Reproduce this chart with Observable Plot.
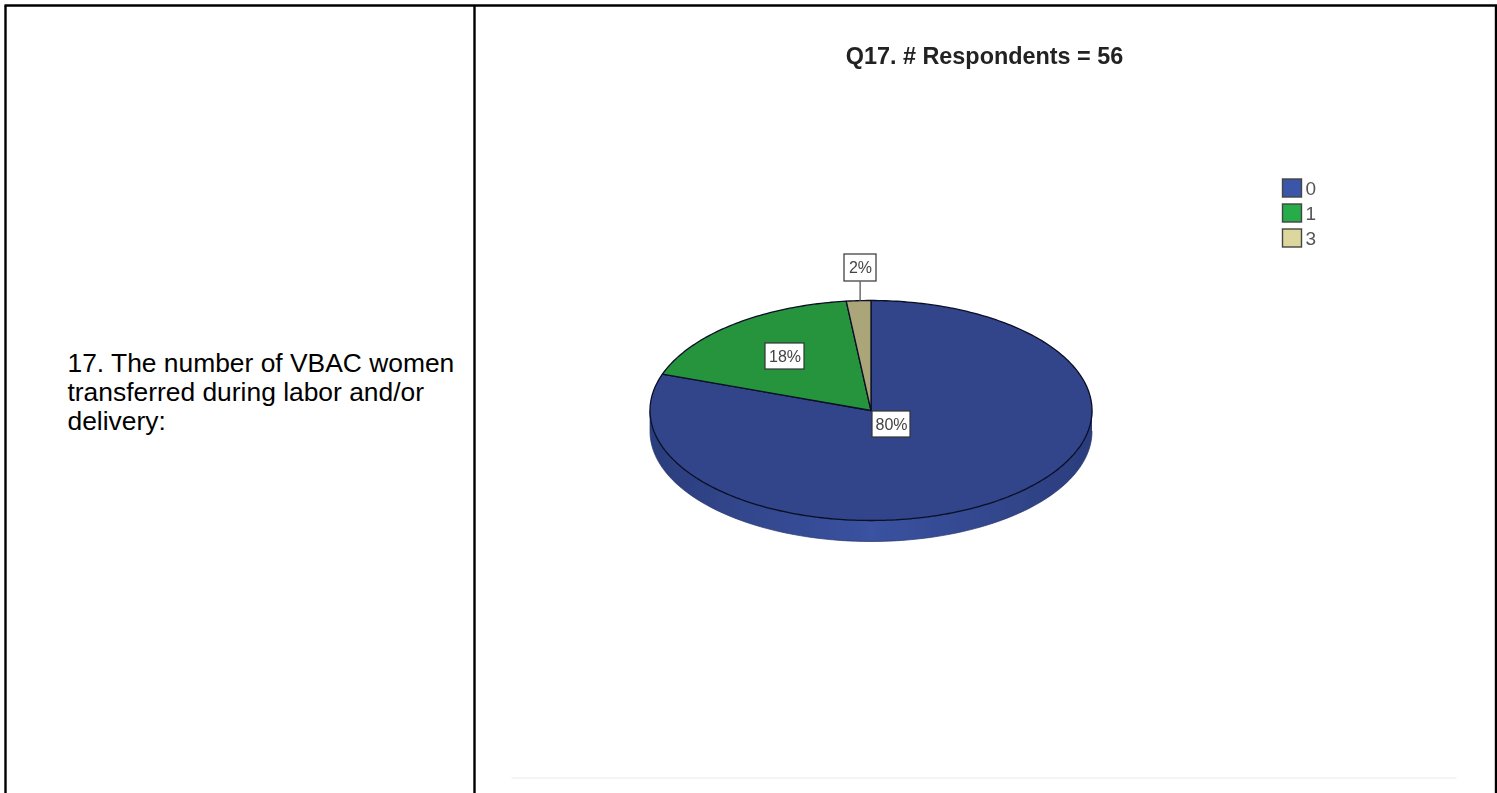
<!DOCTYPE html>
<html><head><meta charset="utf-8">
<style>html,body{margin:0;padding:0;background:#fff}svg{display:block}</style>
<script src="https://cdn.jsdelivr.net/npm/d3@7"></script>
<script src="https://cdn.jsdelivr.net/npm/@observablehq/plot@0.6"></script>
</head><body><div id="chart"></div>
<script>
const categories = ["0", "1", "3"];
const counts = [45, 10, 1];
const percentLabels = ["80%", "18%", "2%"];
const topColors = ["#31458b", "#25943c", "#aba57a"];
const legendColors = ["#3a55a8", "#25ac4a", "#dcd79c"];
const title = "Q17. # Respondents = 56";
const questionLines = ["17. The number of VBAC women", "transferred during labor and/or", "delivery:"];

const W = 1497, H = 793;
const cx = 870.5, cy = 410, rx = 221, ry = 110, depth = 21;

const arcs = d3.pie().sort(null).value(d => d)(counts);
const pt = (a) => [cx + rx * Math.sin(a), cy - ry * Math.cos(a)];
const wedges = arcs.flatMap((arc, i) => {
  const n = Math.max(2, Math.ceil((arc.endAngle - arc.startAngle) * 60));
  const ring = d3.range(n + 1).map(k => pt(arc.startAngle + (arc.endAngle - arc.startAngle) * k / n));
  return [[cx, cy], ...ring, [cx, cy]].map(([x, y]) => ({x, y, i}));
});
const sideAngles = d3.range(90, 271, 2).map(d => d * Math.PI / 180);
const side = [
  ...sideAngles.map(a => pt(a)),
  ...sideAngles.slice().reverse().map(a => { const [x, y] = pt(a); return [x, y + depth]; })
].map(([x, y]) => ({x, y}));

const mid = i => (arcs[i].startAngle + arcs[i].endAngle) / 2;
const labelAt = [
  {i: 0, x: 891, y: 424, w: 38, h: 26},
  {i: 1, x: 784.5, y: 356, w: 39, h: 26},
  {i: 2, x: 860, y: 267.5, w: 32, h: 27}
].map(d => ({...d, label: percentLabels[d.i]}));
const [lx, ly] = pt(mid(2));
const legend = categories.map((c, i) => ({c, i, y: 188 + 25 * i}));

const defs = () => {
  const s = d3.create("svg:defs");
  const g = s.append("linearGradient").attr("id", "sideGrad").attr("gradientUnits", "userSpaceOnUse")
    .attr("x1", cx - rx).attr("x2", cx + rx).attr("y1", 0).attr("y2", 0);
  [[0, "#2b3d7c"], [0.25, "#33488f"], [0.5, "#3a52a0"], [0.75, "#33488f"], [1, "#2b3d7c"]]
    .forEach(([o, c]) => g.append("stop").attr("offset", o).attr("stop-color", c));
  const f = s.append("filter").attr("id", "soft").attr("filterUnits", "userSpaceOnUse")
    .attr("x", 0).attr("y", 0).attr("width", W).attr("height", H);
  f.append("feGaussianBlur").attr("stdDeviation", 0.6);
  return s.node();
};
const soft = {render: (i, s, v, d, c, next) => {
  const g = next(i, s, v, d, c);
  g.setAttribute("filter", "url(#soft)");
  return g;
}};

const rule = (x1, y1, x2, y2) => ({x1, y1, x2, y2});
const frame = [rule(4, 5, 1497, 5), rule(5, 5, 5, H), rule(474, 5, 474, H), rule(1495.5, 5, 1495.5, H)];

const plot = Plot.plot({
  width: W, height: H, margin: 0,
  x: {domain: [0, W], range: [0, W], axis: null},
  y: {domain: [0, H], range: [0, H], axis: null},
  marks: [
    defs,
    Plot.link(frame, {x1: "x1", y1: "y1", x2: "x2", y2: "y2", stroke: "#000", strokeWidth: 2.4}),
    Plot.link([rule(511, 777.5, 1456, 777.5)], {x1: "x1", y1: "y1", x2: "x2", y2: "y2", stroke: "#f0f0f0", strokeWidth: 1.5}),
    Plot.text(questionLines, {x: 67, y: (d, i) => 363.5 + i * 29, text: d => d, textAnchor: "start",
      fontFamily: "Liberation Sans, Arial", fontSize: 26.4, fill: "#000"}),
    Plot.text([title], {x: 984, y: 56, text: d => d, fontFamily: "Liberation Sans, Arial", fontWeight: "bold", fontSize: 23.4, fill: "#222", ...soft}),
    Plot.line(side, {x: "x", y: "y", fill: "url(#sideGrad)", stroke: "#24336b", strokeWidth: 0.7, ...soft}),
    Plot.line(wedges, {x: "x", y: "y", z: "i", fill: d => topColors[d.i], stroke: "#0a0f25", strokeWidth: 1.3, strokeLinejoin: "round", ...soft}),
    Plot.link([{x1: lx + 1.5, y1: ly, x2: lx + 1.5, y2: 281}], {x1: "x1", y1: "y1", x2: "x2", y2: "y2", stroke: "#555", strokeWidth: 1.3, ...soft}),
    Plot.rect(labelAt, {x1: d => d.x - d.w / 2, x2: d => d.x + d.w / 2, y1: d => d.y - d.h / 2, y2: d => d.y + d.h / 2,
      fill: "#fff", stroke: "#333", strokeWidth: 1.2, ...soft}),
    Plot.text(labelAt, {x: "x", y: "y", text: "label", fontFamily: "Liberation Sans, Arial", fontSize: 16, fill: "#444", ...soft}),
    Plot.rect(legend, {x1: 1282.5, x2: 1301.5, y1: d => d.y - 9, y2: d => d.y + 9, fill: d => legendColors[d.i], stroke: "#444", strokeWidth: 1.4, ...soft}),
    Plot.text(legend, {x: 1305, y: "y", text: "c", textAnchor: "start", fontFamily: "Liberation Sans, Arial", fontSize: 19, fill: "#555", ...soft})
  ]
});
document.getElementById("chart").append(plot);
</script></body></html>
